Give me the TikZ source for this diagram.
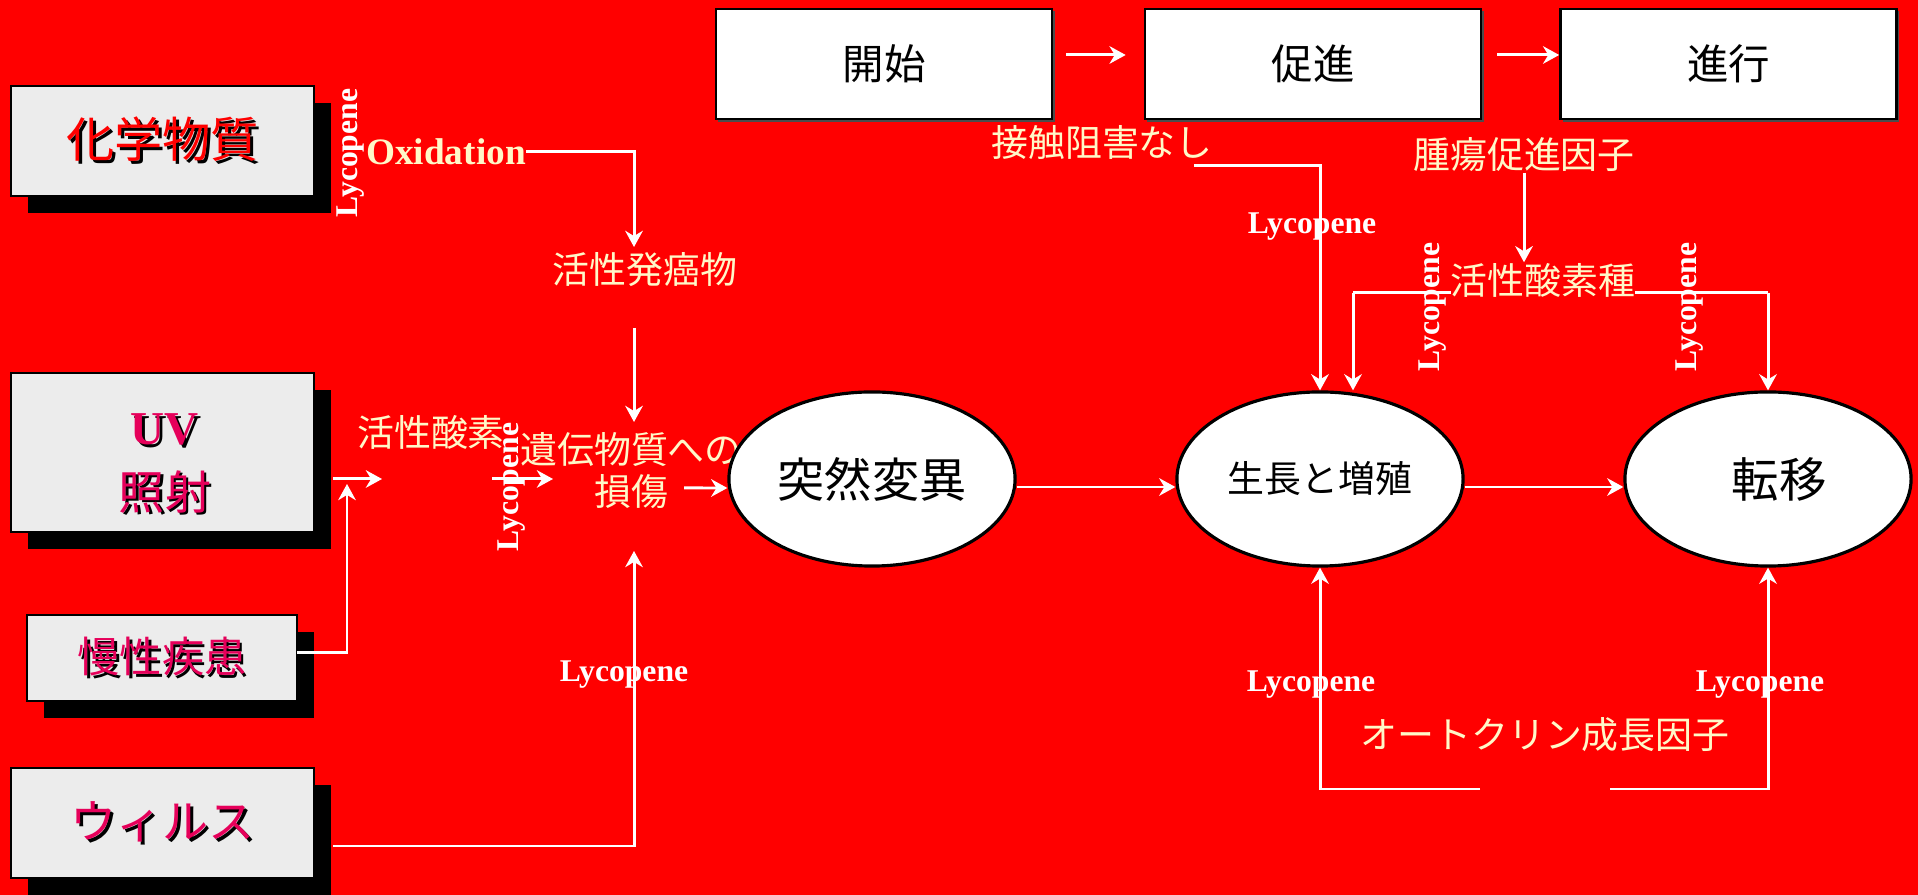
\documentclass[tikz,border=0pt]{standalone}
\usepackage{fontspec}
\setmainfont{Liberation Serif}
\newfontfamily\jp{Noto Sans CJK JP}
\usetikzlibrary{arrows.meta,shadows,shapes.geometric}
\definecolor{bg}{RGB}{255,0,0}
\definecolor{cream}{RGB}{255,248,200}
\definecolor{pinkred}{RGB}{230,0,90}
\definecolor{boxgray}{RGB}{236,236,236}
\newcommand{\shd}[2]{\makebox[0pt][l]{\hspace{0.06em}\raisebox{-0.06em}{\color{black}#2}}{\color{#1}#2}}
\begin{document}
\begin{tikzpicture}[x=0.01cm,y=-0.01cm,
  wl/.style={draw=white,line width=0.85pt},
  arr/.style={wl,-{Stealth[length=4.6pt,width=5pt,inset=1.5pt]}},
  lbox/.style={draw=black,line width=0.7pt,fill=boxgray,inner sep=0,
    drop shadow={shadow xshift=0.17cm,shadow yshift=-0.17cm,fill=black,opacity=1}},
  tbox/.style={draw=black,line width=0.7pt,fill=white,minimum width=3.36cm,minimum height=1.10cm,inner sep=0,
    font=\jp\fontsize{11.8}{14}\selectfont,
    drop shadow={shadow xshift=0.025cm,shadow yshift=-0.025cm,fill=black!70,opacity=1}},
  ell/.style={ellipse,draw=black,line width=0.9pt,fill=white,minimum width=2.86cm,minimum height=1.74cm,inner sep=0},
  lab/.style={text=cream,inner sep=0,font=\jp\fontsize{10.5}{12}\selectfont},
  lyc/.style={text=white,inner sep=0,font=\bfseries\fontsize{9}{10}\selectfont},
]
\useasboundingbox (0,0) rectangle (1918,895);
\fill[bg] (0,0) rectangle (1918,895);

% left boxes
\node[lbox,minimum width=3.03cm,minimum height=1.10cm,font=\jp\fontsize{13.7}{16}\selectfont] (chem) at (162.5,141) {\shd{red}{化学物質}};
\node[lbox,minimum width=3.03cm,minimum height=1.59cm] (uv) at (162.5,452.5) {};
\node[inner sep=0,font=\bfseries\fontsize{13.4}{15}\selectfont] (uvt) at (165,431) {\shd{pinkred}{UV}};
\node[inner sep=0,font=\jp\fontsize{13.1}{15}\selectfont] (uvk) at (165,493) {\shd{pinkred}{照射}};
\node[lbox,minimum width=2.70cm,minimum height=0.86cm,font=\jp\fontsize{12}{14}\selectfont] (chron) at (162,658) {\shd{pinkred}{慢性疾患}};
\node[lbox,minimum width=3.03cm,minimum height=1.10cm,font=\jp\fontsize{13.1}{15}\selectfont] (virus) at (162.5,823) {\shd{pinkred}{ウィルス}};

% top boxes
\node[tbox] (init) at (884,64) {開始};
\node[tbox] (promo) at (1313,64) {促進};
\node[tbox] (prog) at (1728.5,64) {進行};

% damage text (under ellipse)
\node[lab,align=center] (dmg) at (631,471) {遺伝物質への\\損傷};

% ellipses
\node[ell,font=\jp\fontsize{13.4}{15}\selectfont] (mut) at (872,479) {突然変異};
\node[ell,font=\jp\fontsize{10.5}{12}\selectfont] (grow) at (1320,479) {生長と増殖};
\node[ell,font=\jp\fontsize{13.5}{15}\selectfont] (meta) at (1768,479) {\hspace*{0.22cm}転移};

% labels
\node[text=cream,inner sep=0,font=\bfseries\fontsize{10.6}{12}\selectfont] (ox) at (446,152) {Oxidation};
\node[lab] (carc) at (645,270) {活性発癌物};
\node[lab] (ros) at (431,432) {活性酸素};
\node[lab] (contact) at (1102,143) {接触阻害なし};
\node[lab] (tumor) at (1524,155) {腫瘍促進因子};
\node[lab] (auto) at (1545,735) {オートクリン成長因子};

% coordinates
\coordinate (oxT) at (634,247);
\coordinate (carcS) at (634,328);
\coordinate (dmgN) at (634,422);
\coordinate (uvA) at (333,479);
\coordinate (uvB) at (382,479);
\coordinate (chrA) at (297,653);
\coordinate (chrT) at (347,484);
\coordinate (rosA) at (492,479);
\coordinate (dmgW) at (553,479);
\coordinate (virA) at (333,846);
\coordinate (dmgS) at (634,551);
\coordinate (dmgE) at (684,488);
\coordinate (conA) at (1194,166);
\coordinate (rl) at (1353,293);
\coordinate (rr) at (1768,293);
\coordinate (bl) at (1480,789);
\coordinate (br) at (1610,789);

% connectors
\draw[arr] (ox.east) -| (oxT);
\draw[arr] (carcS) -- (dmgN);
\draw[arr] (uvA) -- (uvB);
\draw[arr] (chrA) -| (chrT);
\draw[arr] (rosA) -- (dmgW);
\draw[arr] (virA) -| (dmgS);
\draw[arr] (dmgE) -- ([yshift=-0.09cm]mut.west);
\draw[arr] ([yshift=-0.08cm]mut.east) -- ([yshift=-0.08cm]grow.west);
\draw[arr] ([yshift=-0.08cm]grow.east) -- ([yshift=-0.08cm]meta.west);
\draw[arr,shorten <=0.13cm,shorten >=0.18cm] ([yshift=0.09cm]init.east) -- ([yshift=0.09cm]promo.west);
\draw[arr,shorten <=0.15cm] ([yshift=0.09cm]promo.east) -- ([yshift=0.09cm]prog.west);
\draw[arr] (conA) -| (grow.north);
\draw[wl] (rl) -- (rr);
\node[lab,fill=bg] (ros2) at (1543,280) {活性酸素種};
\draw[arr] (tumor.south) -- (tumor.south |- ros2.north);
\draw[arr] (rl) -- (rl |- grow.north);
\draw[arr] (rr) -- (meta.north);
\draw[arr] (bl) -| (grow.south);
\draw[arr] (br) -| (meta.south);

% Lycopene labels
\node[lyc,rotate=90] (ly1) at (351,153) {Lycopene};
\node[lyc,rotate=90] (ly2) at (512,487) {Lycopene};
\node[lyc] (ly3) at (624,675) {Lycopene};
\node[lyc] (ly4) at (1312,227) {Lycopene};
\node[lyc,rotate=90] (ly5) at (1433,307) {Lycopene};
\node[lyc,rotate=90] (ly6) at (1690,307) {Lycopene};
\node[lyc] (ly7) at (1311,685) {Lycopene};
\node[lyc] (ly8) at (1760,685) {Lycopene};
\end{tikzpicture}
\end{document}
